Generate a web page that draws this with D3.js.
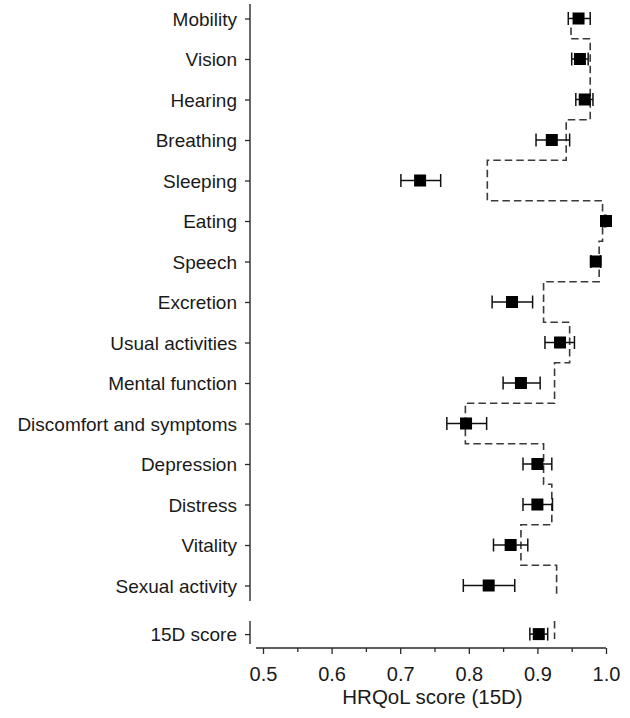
<!DOCTYPE html>
<html>
<head>
<meta charset="utf-8">
<script src="https://cdn.jsdelivr.net/npm/d3@7"></script>
<style>
  body { margin: 0; background: #fff; }
  svg { display: block; font-family: "Liberation Sans", Arial, sans-serif; }
</style>
</head>
<body>
<svg id="chart" width="630" height="718"></svg>
<script>
// ---- data ----
const categories = ["Mobility","Vision","Hearing","Breathing","Sleeping","Eating","Speech","Excretion",
  "Usual activities","Mental function","Discomfort and symptoms","Depression","Distress","Vitality","Sexual activity"];
const means   = [0.960, 0.962, 0.969, 0.921, 0.729, 1.000, 0.985, 0.863, 0.933, 0.876, 0.796, 0.900, 0.900, 0.861, 0.829];
const ciLow   = [0.945, 0.950, 0.956, 0.898, 0.701, 0.998, 0.978, 0.834, 0.911, 0.850, 0.768, 0.879, 0.879, 0.836, 0.792];
const ciHigh  = [0.977, 0.974, 0.981, 0.947, 0.759, 1.000, 0.992, 0.893, 0.954, 0.904, 0.826, 0.921, 0.922, 0.886, 0.867];
const reference = [0.949, 0.977, 0.977, 0.942, 0.827, 0.995, 0.990, 0.909, 0.947, 0.925, 0.795, 0.909, 0.921, 0.876, 0.928];
const totalLabel = "15D score";
const totalMean = 0.902, totalLow = 0.889, totalHigh = 0.915, totalRef = 0.925;
const xTicks = [0.5, 0.6, 0.7, 0.8, 0.9, 1.0];
const xMinorTicks = [0.55, 0.65, 0.75, 0.85, 0.95];
const xTitle = "HRQoL score (15D)";

// ---- layout ----
const svg = d3.select("#chart");
const x = d3.scaleLinear().domain([0.5, 1.0]).range([263, 606]);
const y = d3.scalePoint().domain(categories).range([18.5, 585.5]);
const step = y.step();
const yTotal = y(categories[categories.length - 1]) + step * 1.2;
const axisX = 250;
const axisY = 648;
const ink = "#2a2a2a";
const labelSize = 19;

// y axis (upper segment)
const yAxis = svg.append("g")
  .attr("transform", `translate(${axisX},0)`)
  .call(d3.axisLeft(y).tickSize(5).tickPadding(8).tickSizeOuter(0));
yAxis.select(".domain").remove();
yAxis.selectAll("line").attr("stroke", ink).attr("stroke-width", 1.3);
yAxis.selectAll("text").attr("font-size", labelSize).attr("fill", "#1a1a1a").attr("dy", "0.36em");
svg.append("line").attr("x1", axisX).attr("x2", axisX).attr("y1", 4).attr("y2", 601)
  .attr("stroke", ink).attr("stroke-width", 1.4);

// y axis (lower segment for total score)
const yTot = d3.scalePoint().domain([totalLabel]).range([yTotal, yTotal]);
const yAxis2 = svg.append("g")
  .attr("transform", `translate(${axisX},0)`)
  .call(d3.axisLeft(yTot).tickSize(5).tickPadding(8).tickSizeOuter(0));
yAxis2.select(".domain").remove();
yAxis2.selectAll("line").attr("stroke", ink).attr("stroke-width", 1.3);
yAxis2.selectAll("text").attr("font-size", labelSize).attr("fill", "#1a1a1a").attr("dy", "0.36em");
svg.append("line").attr("x1", axisX).attr("x2", axisX).attr("y1", 621).attr("y2", 644)
  .attr("stroke", ink).attr("stroke-width", 1.4);

// x axis
const xAxis = svg.append("g")
  .attr("transform", `translate(0,${axisY})`)
  .call(d3.axisBottom(x).tickValues(xTicks).tickFormat(d3.format(".1f")).tickSize(6).tickPadding(12.5).tickSizeOuter(0));
xAxis.select(".domain").remove();
xAxis.selectAll("line").attr("stroke", ink).attr("stroke-width", 1.3);
xAxis.selectAll("text").attr("font-size", 20).attr("fill", "#1a1a1a");
const xMinor = svg.append("g")
  .attr("transform", `translate(0,${axisY})`)
  .call(d3.axisBottom(x).tickValues(xMinorTicks).tickFormat("").tickSize(4).tickSizeOuter(0));
xMinor.select(".domain").remove();
xMinor.selectAll("line").attr("stroke", ink).attr("stroke-width", 1.3);
svg.append("line").attr("x1", 256).attr("x2", x(1.0)).attr("y1", axisY).attr("y2", axisY)
  .attr("stroke", ink).attr("stroke-width", 1.4);

svg.append("text").attr("x", (x(0.5) + x(1.0)) / 2 - 2).attr("y", 704)
  .attr("text-anchor", "middle").attr("font-size", 20.5).attr("fill", "#1a1a1a").text(xTitle);

// reference step line (dashed)
const pts = [];
categories.forEach((c, i) => {
  const top = i === 0 ? y(c) + step * 0.22 : y(c) - step / 2;
  const bot = i === categories.length - 1 ? y(c) + step * 0.3 : y(c) + step / 2;
  pts.push([x(reference[i]), top], [x(reference[i]), bot]);
});
const line = d3.line();
svg.append("path").attr("d", line(pts)).attr("fill", "none")
  .attr("stroke", "#3a3a3a").attr("stroke-width", 1.6).attr("stroke-dasharray", "7.5,4");
svg.append("path").attr("d", line([[x(totalRef), yTotal - 13], [x(totalRef), yTotal + 5]]))
  .attr("fill", "none").attr("stroke", "#3a3a3a").attr("stroke-width", 1.6).attr("stroke-dasharray", "7.5,4");

// error bars + markers
const rows = categories.map((c, i) => ({ yy: y(c), m: means[i], lo: ciLow[i], hi: ciHigh[i] }));
rows.push({ yy: yTotal, m: totalMean, lo: totalLow, hi: totalHigh });
const capH = 6.5;
const g = svg.append("g");
rows.forEach(r => {
  g.append("line").attr("x1", x(r.lo)).attr("x2", x(r.hi)).attr("y1", r.yy).attr("y2", r.yy)
    .attr("stroke", "#111").attr("stroke-width", 1.5);
  [r.lo, r.hi].forEach(v => {
    g.append("line").attr("x1", x(v)).attr("x2", x(v)).attr("y1", r.yy - capH).attr("y2", r.yy + capH)
      .attr("stroke", "#111").attr("stroke-width", 1.5);
  });
  g.append("rect").attr("x", x(r.m) - 6).attr("y", r.yy - 6).attr("width", 12).attr("height", 12)
    .attr("fill", "#000");
});
</script>
</body>
</html>
